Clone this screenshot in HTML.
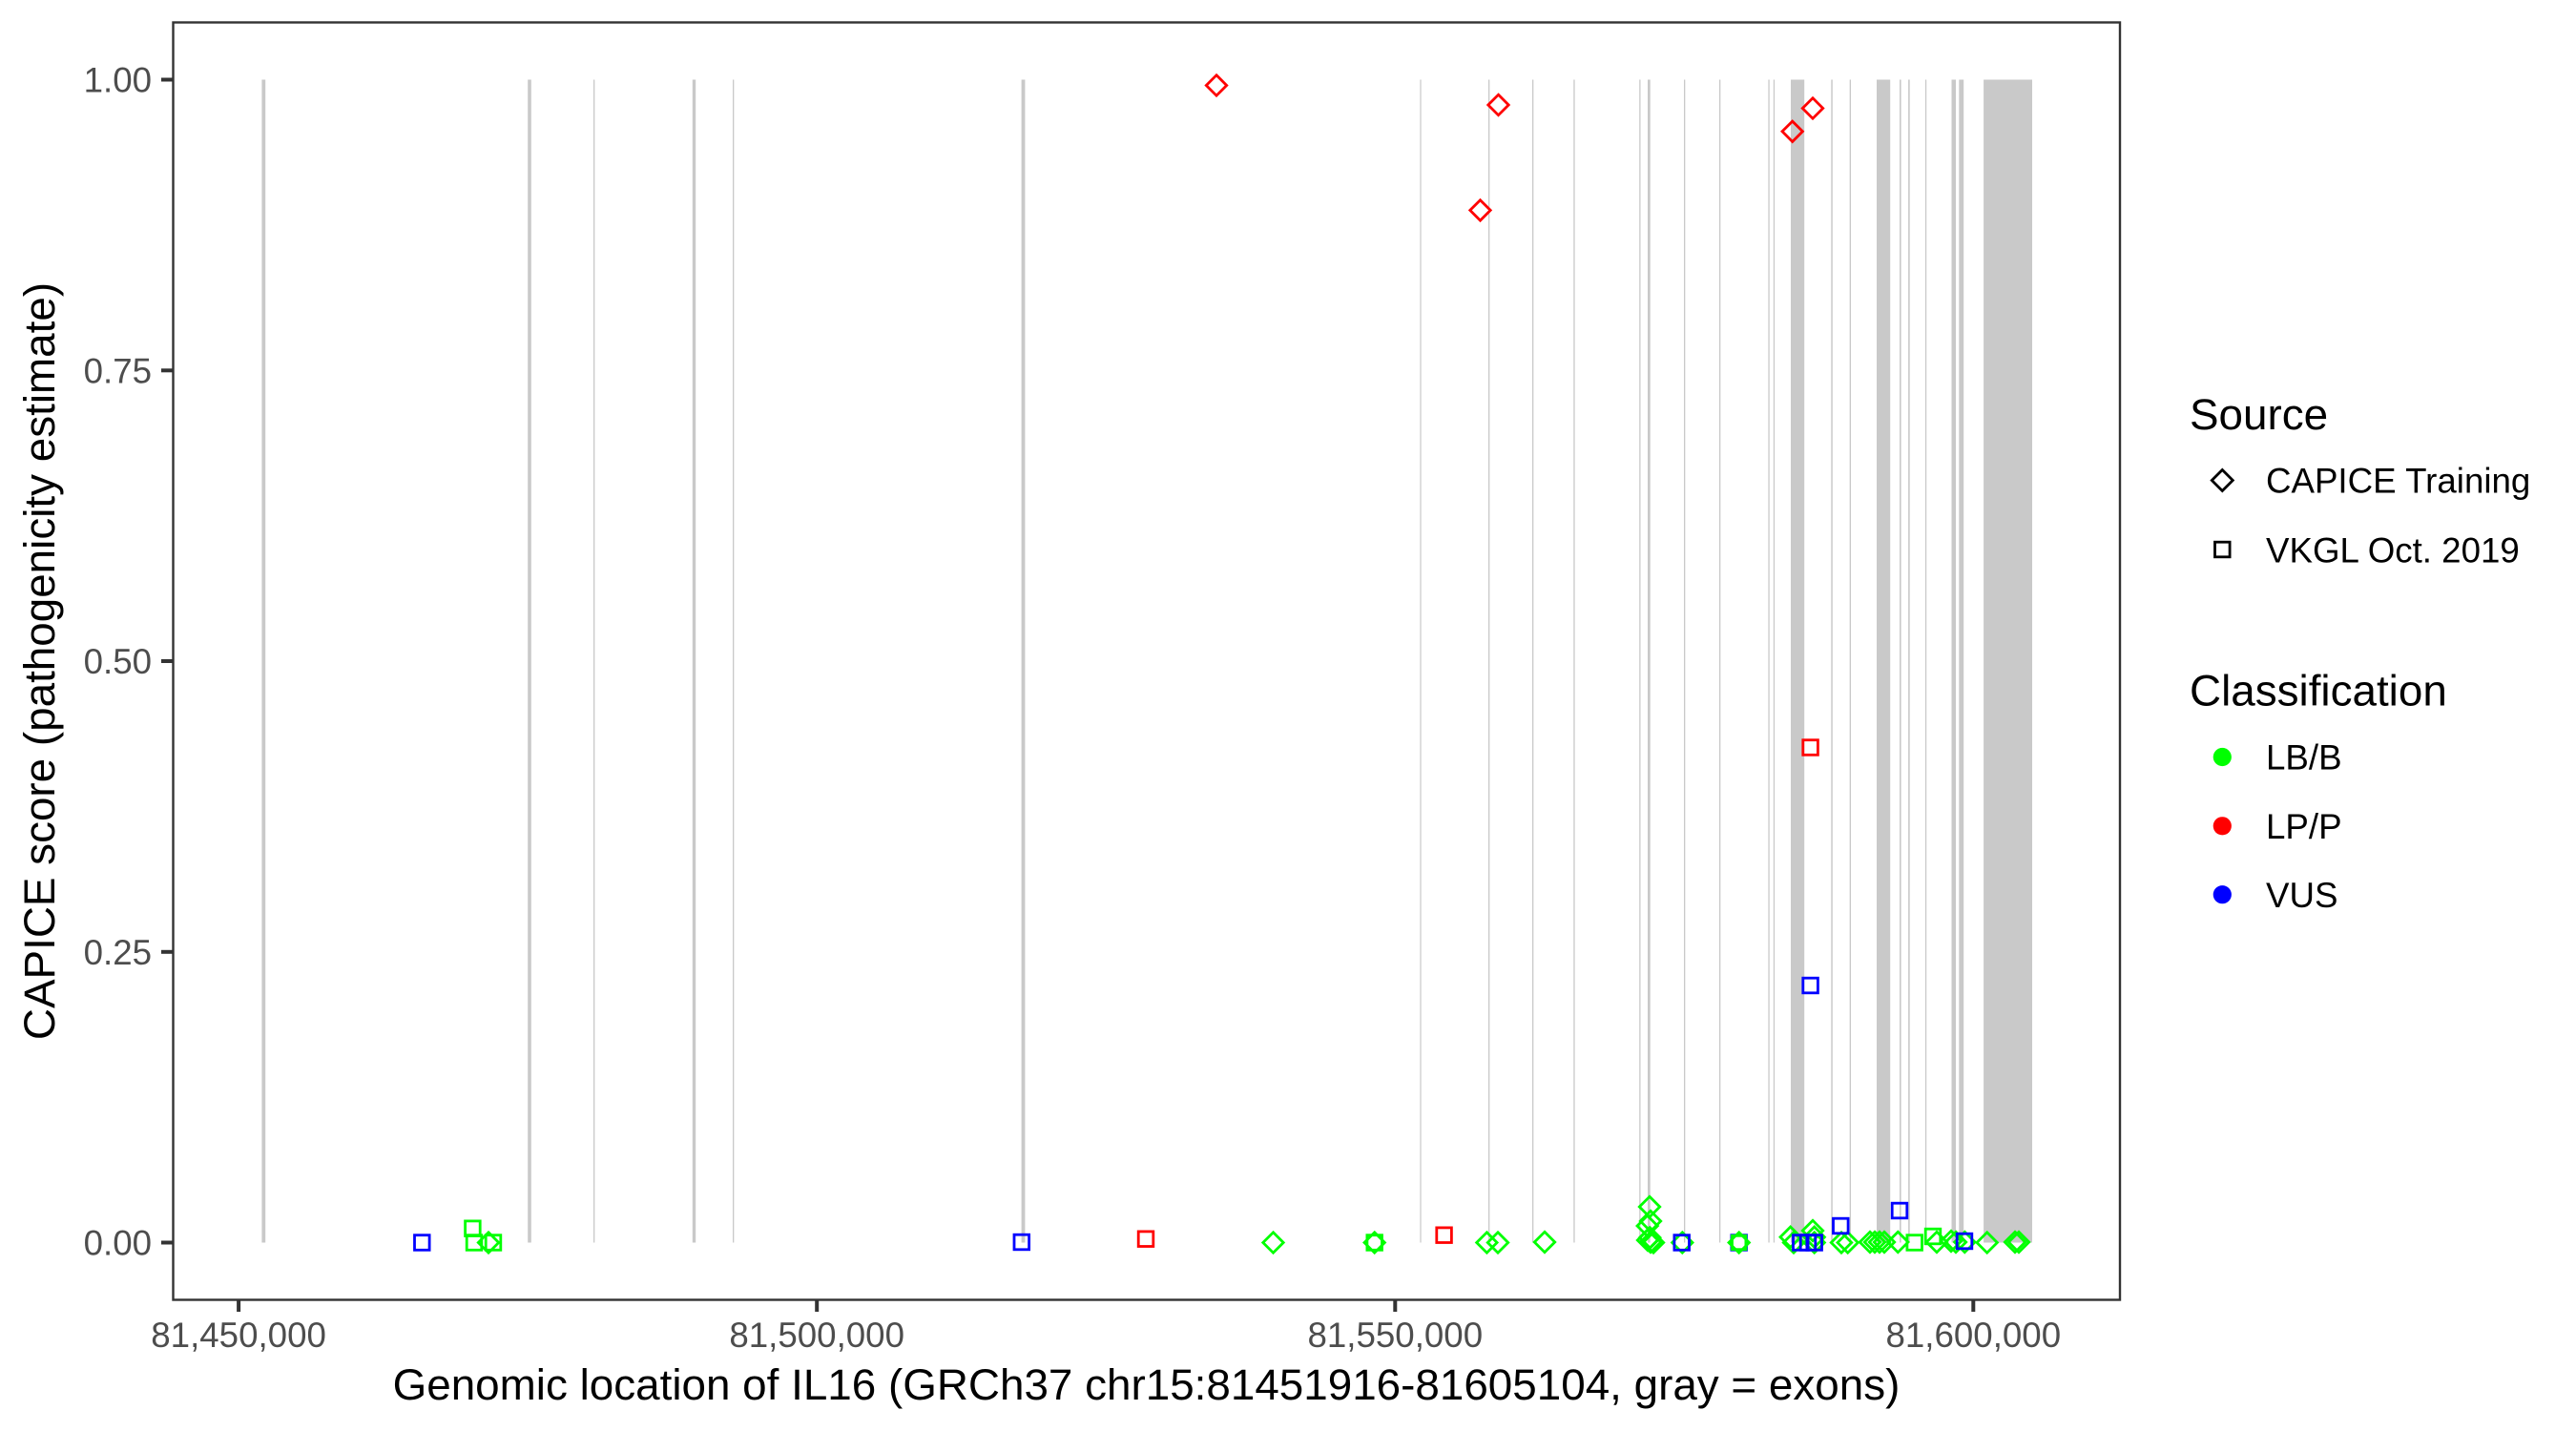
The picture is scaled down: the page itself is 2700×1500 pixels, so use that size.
<!DOCTYPE html>
<html>
<head>
<meta charset="utf-8">
<style>
html,body{margin:0;padding:0;background:#fff;}
svg{display:block;}
text{font-family:"Liberation Sans",Arial,sans-serif;}
</style>
</head>
<body>
<svg xmlns="http://www.w3.org/2000/svg" width="2700" height="1500" viewBox="0 0 2700 1500">
<defs>
<polygon id="dm" points="0,-10.7 10.7,0 0,10.7 -10.7,0" fill="none" stroke-width="2.8"/>
</defs>
<rect x="0" y="0" width="2700" height="1500" fill="#fff"/>

<!-- exons -->
<g fill="#c9c9c9">
<rect x="274.4" y="83.5" width="3.8" height="1219"/>
<rect x="553.2" y="83.5" width="3.6" height="1219"/>
<rect x="622" y="83.5" width="1.3" height="1219"/>
<rect x="725.8" y="83.5" width="3.4" height="1219"/>
<rect x="768" y="83.5" width="1.3" height="1219"/>
<rect x="1070.6" y="83.5" width="3.8" height="1219"/>
<rect x="1488.4" y="83.5" width="1.2" height="1219"/>
<rect x="1560" y="83.5" width="1.3" height="1219"/>
<rect x="1606" y="83.5" width="1.3" height="1219"/>
<rect x="1649.3" y="83.5" width="1.3" height="1219"/>
<rect x="1718.2" y="83.5" width="1.3" height="1219"/>
<rect x="1727" y="83.5" width="2.7" height="1219"/>
<rect x="1765" y="83.5" width="1.3" height="1219"/>
<rect x="1802" y="83.5" width="1.3" height="1219"/>
<rect x="1853.4" y="83.5" width="1.3" height="1219"/>
<rect x="1858.8" y="83.5" width="1.3" height="1219"/>
<rect x="1877" y="83.5" width="14.2" height="1219"/>
<rect x="1919.3" y="83.5" width="1.5" height="1219"/>
<rect x="1938.7" y="83.5" width="1.3" height="1219"/>
<rect x="1967" y="83.5" width="14.2" height="1219"/>
<rect x="1991" y="83.5" width="1.6" height="1219"/>
<rect x="2000.1" y="83.5" width="1.6" height="1219"/>
<rect x="2017.9" y="83.5" width="1.3" height="1219"/>
<rect x="2045.5" y="83.5" width="4.5" height="1219"/>
<rect x="2053.3" y="83.5" width="4.9" height="1219"/>
<rect x="2079.1" y="83.5" width="50.9" height="1219"/>
</g>

<!-- green points -->
<g stroke="#00ff00" fill="none" stroke-width="2.8">
<rect x="487.6" y="1279.9" width="15.6" height="15.6"/>
<rect x="489.2" y="1294.7" width="15.6" height="15.6"/>
<rect x="509.2" y="1294.7" width="15.6" height="15.6"/>
<rect x="1432.9" y="1294.7" width="15.6" height="15.6"/>
<rect x="1998.9" y="1294.7" width="15.6" height="15.6"/>
<rect x="2018.2" y="1288.2" width="15.6" height="15.6"/>
</g>
<g stroke="#00ff00">
<use href="#dm" x="512" y="1302.5"/>
<use href="#dm" x="1334.5" y="1302.5"/>
<use href="#dm" x="1440.7" y="1302.5"/>
<use href="#dm" x="1558.4" y="1302.5"/>
<use href="#dm" x="1570" y="1302.5"/>
<use href="#dm" x="1619" y="1302"/>
<use href="#dm" x="1729" y="1265"/>
<use href="#dm" x="1730" y="1280"/>
<use href="#dm" x="1726.7" y="1285"/>
<use href="#dm" x="1729.3" y="1297.3"/>
<use href="#dm" x="1730" y="1302"/>
<use href="#dm" x="1733" y="1302.5"/>
<use href="#dm" x="1727" y="1300"/>
<use href="#dm" x="1763.3" y="1302.5"/>
<use href="#dm" x="1876.7" y="1296.7"/>
<use href="#dm" x="1880" y="1302.5"/>
<use href="#dm" x="1900" y="1290"/>
<use href="#dm" x="1901.7" y="1296.7"/>
<use href="#dm" x="1901.7" y="1302.5"/>
<use href="#dm" x="1930" y="1302.5"/>
<use href="#dm" x="1936.7" y="1302.5"/>
<use href="#dm" x="1960" y="1302"/>
<use href="#dm" x="1965" y="1302"/>
<use href="#dm" x="1970" y="1302"/>
<use href="#dm" x="1975" y="1302"/>
<use href="#dm" x="1989.3" y="1302"/>
<use href="#dm" x="2030" y="1302"/>
<use href="#dm" x="2045" y="1301"/>
<use href="#dm" x="2050" y="1302"/>
<use href="#dm" x="2059.3" y="1302"/>
<use href="#dm" x="2082.7" y="1302.5"/>
<use href="#dm" x="2112" y="1302"/>
<use href="#dm" x="2116" y="1302"/>
</g>

<!-- red points -->
<g stroke="#ff0000">
<use href="#dm" x="1275" y="89.5"/>
<use href="#dm" x="1570.5" y="110"/>
<use href="#dm" x="1551.5" y="220.4"/>
<use href="#dm" x="1878.7" y="137.8"/>
<use href="#dm" x="1900" y="113.5"/>
</g>
<g stroke="#ff0000" fill="none" stroke-width="2.8">
<rect x="1889.8" y="775.7" width="15.6" height="15.6"/>
<rect x="1193.2" y="1290.9" width="15.6" height="15.6"/>
<rect x="1505.8" y="1286.9" width="15.6" height="15.6"/>
</g>

<!-- blue points -->
<g stroke="#0000ff" fill="none" stroke-width="2.8">
<rect x="434.5" y="1294.7" width="15.6" height="15.6"/>
<rect x="1063" y="1294.2" width="15.6" height="15.6"/>
<rect x="1889.8" y="1025.2" width="15.6" height="15.6"/>
<rect x="1754.9" y="1294.7" width="15.6" height="15.6"/>
<rect x="1814.9" y="1294.7" width="15.6" height="15.6"/>
<rect x="1879.5" y="1294.7" width="15.6" height="15.6"/>
<rect x="1887.2" y="1294.7" width="15.6" height="15.6"/>
<rect x="1893.9" y="1294.7" width="15.6" height="15.6"/>
<rect x="1921.5" y="1277.2" width="15.6" height="15.6"/>
<rect x="1983.2" y="1261.2" width="15.6" height="15.6"/>
<rect x="2051.2" y="1293.2" width="15.6" height="15.6"/>
</g>
<!-- green on top at 1822 -->
<g stroke="#00ff00" fill="none" stroke-width="2.8">
<rect x="1815.5" y="1295.3" width="14.4" height="14.4"/>
</g>
<g stroke="#00ff00"><use href="#dm" x="1822.7" y="1302.5"/></g>

<!-- panel border -->
<rect x="181.5" y="23.5" width="2040.5" height="1339" fill="none" stroke="#333333" stroke-width="2.4"/>

<!-- y ticks -->
<g stroke="#333333" stroke-width="4">
<line x1="169" y1="83.5" x2="181" y2="83.5"/>
<line x1="169" y1="388.3" x2="181" y2="388.3"/>
<line x1="169" y1="693" x2="181" y2="693"/>
<line x1="169" y1="997.8" x2="181" y2="997.8"/>
<line x1="169" y1="1302.5" x2="181" y2="1302.5"/>
</g>
<g fill="#4d4d4d" font-size="36.7" text-anchor="end">
<text x="159" y="96.5">1.00</text>
<text x="159" y="401.3">0.75</text>
<text x="159" y="706">0.50</text>
<text x="159" y="1010.8">0.25</text>
<text x="159" y="1315.5">0.00</text>
</g>

<!-- x ticks -->
<g stroke="#333333" stroke-width="4">
<line x1="250.1" y1="1363" x2="250.1" y2="1375"/>
<line x1="856.2" y1="1363" x2="856.2" y2="1375"/>
<line x1="1462.3" y1="1363" x2="1462.3" y2="1375"/>
<line x1="2068.3" y1="1363" x2="2068.3" y2="1375"/>
</g>
<g fill="#4d4d4d" font-size="36.7" text-anchor="middle">
<text x="250.1" y="1412">81,450,000</text>
<text x="856.2" y="1412">81,500,000</text>
<text x="1462.3" y="1412">81,550,000</text>
<text x="2068.3" y="1412">81,600,000</text>
</g>

<!-- axis titles -->
<text x="1201.5" y="1467" font-size="45.8" text-anchor="middle" fill="#000">Genomic location of IL16 (GRCh37 chr15:81451916-81605104, gray = exons)</text>
<text transform="translate(57,693) rotate(-90)" x="0" y="0" font-size="45.8" text-anchor="middle" fill="#000">CAPICE score (pathogenicity estimate)</text>

<!-- legend -->
<text x="2295" y="450" font-size="45.8" fill="#000">Source</text>
<polygon points="2329.3,492.5 2340.3,503.5 2329.3,514.5 2318.3,503.5" fill="none" stroke="#000" stroke-width="2.8"/>
<text x="2375" y="516.5" font-size="36.7" fill="#000">CAPICE Training</text>
<rect x="2321.5" y="568.2" width="15.6" height="15.6" fill="none" stroke="#000" stroke-width="2.8"/>
<text x="2375" y="589.5" font-size="36.7" fill="#000">VKGL Oct. 2019</text>

<text x="2295" y="739.5" font-size="45.8" fill="#000">Classification</text>
<circle cx="2329.3" cy="793.5" r="9.6" fill="#00ff00"/>
<text x="2375" y="806.5" font-size="36.7" fill="#000">LB/B</text>
<circle cx="2329.3" cy="865.8" r="9.6" fill="#ff0000"/>
<text x="2375" y="879" font-size="36.7" fill="#000">LP/P</text>
<circle cx="2329.3" cy="937.7" r="9.6" fill="#0000ff"/>
<text x="2375" y="951" font-size="36.7" fill="#000">VUS</text>
</svg>
</body>
</html>
